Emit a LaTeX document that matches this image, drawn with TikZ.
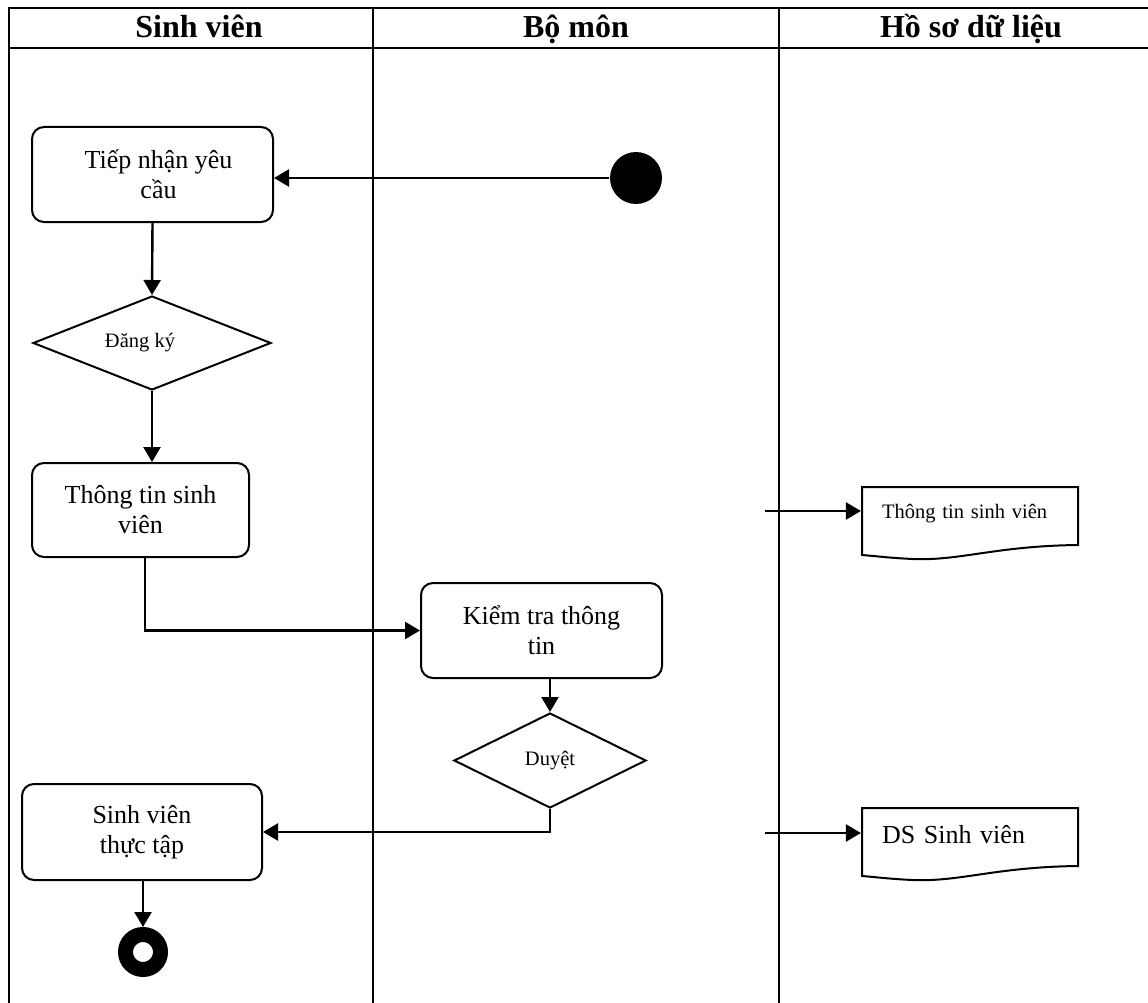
\documentclass[tikz,border=0pt]{standalone}
\usepackage{fontspec}
\setmainfont{Liberation Serif}
\usetikzlibrary{arrows.meta,shapes.geometric}
\newcommand\bigtxt{\fontsize{26}{30}\selectfont}
\newcommand\smalltxt{\fontsize{20.5}{24}\selectfont}
\newcommand\headtxt{\fontsize{32}{36}\selectfont\bfseries}
\begin{document}
\begin{tikzpicture}[x=1pt,y=-1pt,
  line width=2.2pt,
  act/.style={draw, line width=2pt, rounded corners=12pt, inner sep=0pt,
    minimum width=241pt, minimum height=95pt, align=center, font=\bigtxt},
  dec/.style={draw, line width=2pt, diamond, inner sep=0pt, aspect=2.5, font=\smalltxt},
  docbox/.style={inner sep=0pt, minimum width=216pt, minimum height=58pt,
    text width=176pt, align=left},
  docline/.style={line width=2pt},
  flow/.style={-{Triangle[length=15pt,width=17pt]}, line width=2.4pt},
  lane/.style={line width=2.2pt},
  head/.style={font=\headtxt, anchor=base}]
\useasboundingbox (0,0) rectangle (1148,1003);
\clip (0,0) rectangle (1148,1003);
% swimlanes
\draw[lane] (9,1010) -- (9,8) -- (1160,8);
\draw[lane] (9,48) -- (1160,48);
\draw[lane] (373,8) -- (373,1010);
\draw[lane] (779,8) -- (779,1010);
\node[head] (h1) at (199,38) {Sinh viên};
\node[head] (h2) at (576,38) {Bộ môn};
\node[head] (h3) at (971,38) {Hồ sơ dữ liệu};
% activities
\node[act] (tiep) at (152.5,174.5) {\hspace*{12pt}Tiếp nhận yêu\\\hspace*{12pt}cầu};
\node[dec, minimum width=238pt, minimum height=94pt] (dk) at (152,343) {Đăng ký\hspace*{24pt}};
\node[act, minimum width=217pt, minimum height=94pt] (tt) at (140.5,510) {Thông tin sinh\\viên};
\node[act] (kt) at (541.5,630.5) {Kiểm tra thông\\tin};
\node[dec, minimum width=192pt, minimum height=95pt] (duyet) at (550,760.5) {Duyệt};
\node[act, minimum width=240pt, minimum height=96pt] (svtt) at (142,832) {Sinh viên\\thực tập};
\node[circle, fill, inner sep=0pt, minimum size=52pt] (start) at (636,178) {};
\node[circle, draw, line width=15pt, inner sep=0pt, minimum size=35pt] (stop) at (143,952) {};
% documents
\node[docbox, font=\smalltxt] (doc1) at (970,514) {Thông tin sinh viên};
\draw[docline] (862,487) -- (1078,487) -- (1078,545)
  .. controls (995,546) and (960,561) .. (913,559)
  .. controls (890,558) and (875,556) .. (862,555) -- cycle;
\node[docbox, font=\bigtxt] (doc2) at (970,835) {DS Sinh viên};
\draw[docline] (862,808) -- (1078,808) -- (1078,866)
  .. controls (995,867) and (960,882) .. (913,880)
  .. controls (890,879) and (875,877) .. (862,876) -- cycle;
% connectors
\coordinate (in1) at (765,511);
\coordinate (in2) at (765,833);
\draw[flow] (in1) -- (in1 -| doc1.west);
\draw[flow] (in2) -- (in2 -| doc2.west);
\draw[flow] (start) -- (start -| tiep.east);
\draw[flow] (tiep.south) -- (dk.north);
\draw[flow] (dk.south) -- (dk.south |- tt.north);
\draw[flow] ([xshift=4.5pt]tt.south) |- (kt.west);
\draw[flow] (kt.south -| duyet.north) -- (duyet.north);
\draw[flow] (duyet.south) |- (svtt.east);
\draw[flow] (svtt.south -| stop.north) -- (stop.north);
\end{tikzpicture}
\end{document}
